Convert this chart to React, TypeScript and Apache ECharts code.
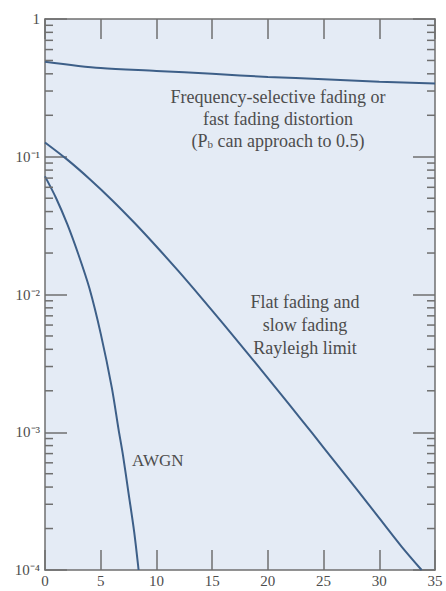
import React, { useEffect, useRef } from "react";
import * as echarts from "echarts";

// Eb/N0 (dB) -> bit error probability
const distortionX = [0, 5, 10, 15, 20, 25, 30, 35];
const distortionP = [0.49, 0.44, 0.42, 0.4, 0.38, 0.365, 0.35, 0.34];

const rayleighX = [0, 2, 4, 6, 8, 10, 12, 14, 16, 18, 20, 22, 24, 26, 28, 30, 32, 33.8];
const rayleighP = [0.127, 0.0953, 0.069, 0.0486, 0.0333, 0.0223, 0.0147, 0.00953, 0.00612, 0.0039, 0.00247, 0.00156, 0.00098, 0.000612, 0.000383, 0.000238, 0.000148, 0.0001];

const awgnX = [0, 1, 2, 3, 4, 5, 6, 6.6, 7, 7.5, 8, 8.4];
const awgnP = [0.072, 0.05, 0.0324, 0.0195, 0.011, 0.0052, 0.0021, 0.00105, 0.00068, 0.00036, 0.00019, 0.0001];

const xTicks = [0, 5, 10, 15, 20, 25, 30, 35];
const yTickLabels: Record<string, string> = {
  "0.0001": "10⁻⁴",
  "0.001": "10⁻³",
  "0.01": "10⁻²",
  "0.1": "10⁻¹",
  "1": "1",
};
const decades = [0.0001, 0.001, 0.01, 0.1];
const minorMultipliers = [2, 3, 4, 5, 6, 7, 8, 9];

const minorTicks: number[] = [];
decades.forEach((d) => minorMultipliers.forEach((m) => minorTicks.push(+(d * m).toPrecision(3))));

const LINE = "#3d5f88";
const AXIS = "#6f6f6f";
const TEXT = "#4d4d4d";
const FONT = "Liberation Serif";

export default function App() {
  const ref = useRef<HTMLDivElement>(null);
  useEffect(() => {
    if (!ref.current) return;
    const chart = echarts.init(ref.current, null, { renderer: "svg" });
    const pairs = (xs: number[], ys: number[]) => xs.map((x, i) => [x, ys[i]]);
    const yLabel = (v: number) => {
      const key = String(+v.toPrecision(3));
      return yTickLabels[key] ?? "";
    };
    const lineSeries = (name: string, data: number[][]) => ({
      name,
      type: "line",
      data,
      smooth: 0.3,
      showSymbol: false,
      symbol: "none",
      lineStyle: { color: LINE, width: 2 },
      xAxisIndex: 0,
      yAxisIndex: 0,
      z: 3,
    });
    const baseX = {
      type: "value",
      min: 0,
      max: 35,
      interval: 5,
      splitLine: { show: false },
      axisLine: { show: true, onZero: false, lineStyle: { color: AXIS, width: 1.5 } },
      axisTick: { show: true, inside: true, length: 20, lineStyle: { color: AXIS, width: 1.5 } },
    };
    const baseY = {
      type: "log",
      logBase: 10,
      min: 0.0001,
      max: 1,
      splitLine: { show: false },
      axisLine: { show: true, onZero: false, lineStyle: { color: AXIS, width: 1.5 } },
      axisTick: { show: true, inside: true, length: 22, lineStyle: { color: AXIS, width: 1.5 } },
    };
    chart.setOption({
      animation: false,
      grid: {
        left: 45,
        right: 11,
        top: 19,
        bottom: 21,
        show: true,
        backgroundColor: "#e4ebf5",
        borderWidth: 0,
      },
      xAxis: [
        {
          ...baseX,
          position: "bottom",
          axisLabel: {
            show: true,
            color: TEXT,
            fontFamily: FONT,
            fontSize: 15,
            margin: 3,
            formatter: (v: number) => (xTicks.includes(v) ? String(v) : ""),
          },
        },
        { ...baseX, position: "top", axisLabel: { show: false } },
      ],
      yAxis: [
        {
          ...baseY,
          position: "left",
          axisLabel: {
            show: true,
            margin: 5,
            color: TEXT,
            fontFamily: FONT,
            fontSize: 15,
            formatter: yLabel,
          },
        },
        { ...baseY, position: "right", axisLabel: { show: false } },
      ],
      series: [
        lineSeries("distortion", pairs(distortionX, distortionP)),
        lineSeries("rayleigh", pairs(rayleighX, rayleighP)),
        lineSeries("awgn", pairs(awgnX, awgnP)),
        {
          type: "custom",
          name: "minorTicks",
          xAxisIndex: 0,
          yAxisIndex: 0,
          clip: false,
          silent: true,
          z: 4,
          data: minorTicks.map((v) => [0, v]),
          encode: { x: 0, y: 1 },
          renderItem: (params: any, api: any) => {
            const v = api.value(1);
            const l = api.coord([0, v]);
            const r = api.coord([35, v]);
            const st = { stroke: AXIS, lineWidth: 1.5 };
            return {
              type: "group",
              children: [
                { type: "line", shape: { x1: l[0], y1: l[1], x2: l[0] + 8, y2: l[1] }, style: st },
                { type: "line", shape: { x1: r[0] - 8, y1: r[1], x2: r[0], y2: r[1] }, style: st },
              ],
            };
          },
        },
      ],
      graphic: [
        {
          type: "text",
          x: 278,
          y: 86,
          style: {
            text: "Frequency-selective fading or\nfast fading distortion\n(P{sub|b} can approach to 0.5)",
            align: "center",
            verticalAlign: "top",
            fontFamily: FONT,
            fontSize: 18,
            lineHeight: 22,
            fill: TEXT,
            rich: {
              sub: { fontFamily: FONT, fontSize: 11, fill: TEXT, padding: [6, 0, 0, 0] },
            },
          },
        },
        {
          type: "text",
          x: 305,
          y: 290,
          style: {
            text: "Flat fading and\nslow fading\nRayleigh limit",
            align: "center",
            verticalAlign: "top",
            fontFamily: FONT,
            fontSize: 18,
            lineHeight: 23,
            fill: TEXT,
          },
        },
        {
          type: "text",
          x: 132,
          y: 460,
          style: {
            text: "AWGN",
            align: "left",
            verticalAlign: "middle",
            fontFamily: FONT,
            fontSize: 17,
            fill: TEXT,
          },
        },
      ],
    });
    return () => chart.dispose();
  }, []);
  return <div ref={ref} style={{ width: 446, height: 591, position: "absolute", left: 0, top: 0 }} />;
}
